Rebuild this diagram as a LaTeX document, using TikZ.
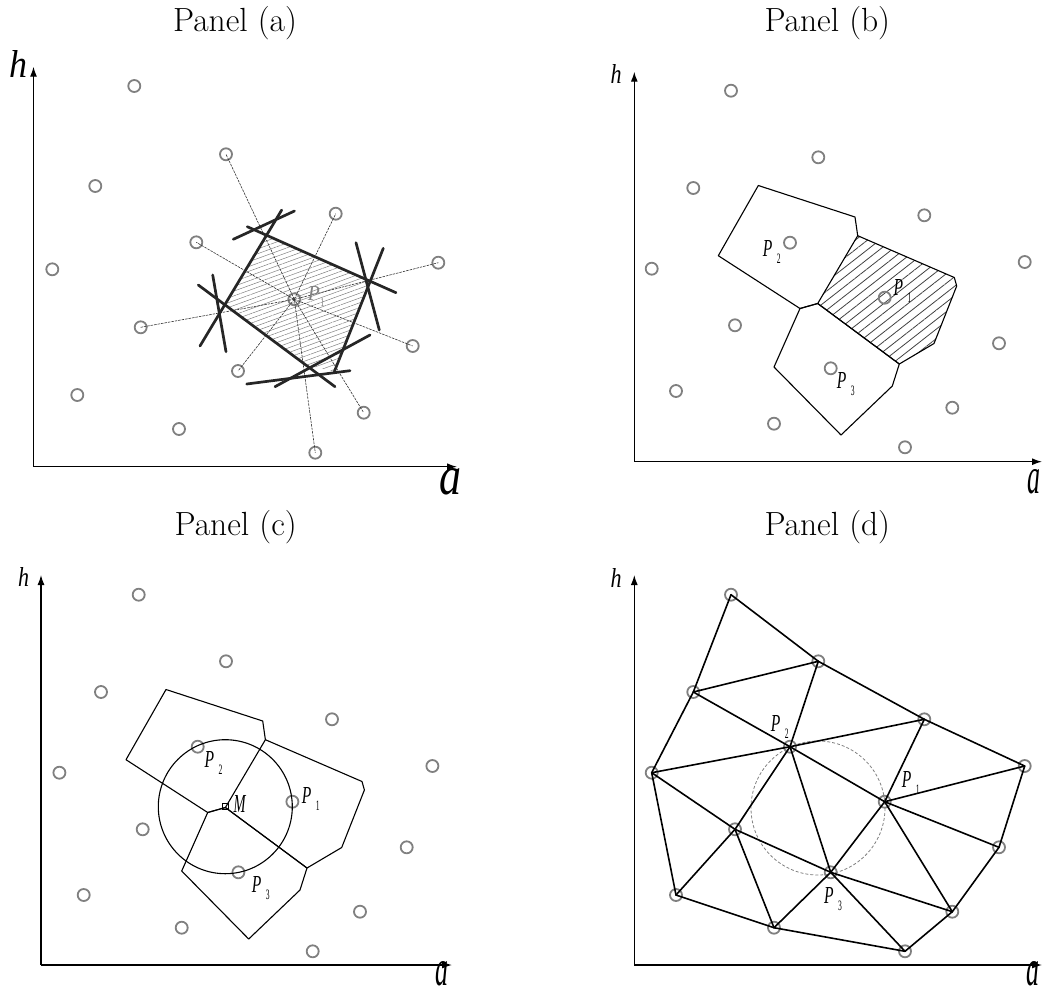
\documentclass[tikz,border=0pt]{standalone}
\usepackage{fontspec}
\newfontfamily\tms{Liberation Serif}
\usetikzlibrary{arrows.meta,patterns.meta}
\definecolor{ptgray}{RGB}{128,128,128}
\newcommand{\itg}[3]{\resizebox{#1}{#2}{\tms\itshape #3}}
\newcommand{\Plab}[1]{\itg{9.5pt}{16pt}{P}\hspace{4.5pt}\raisebox{-7pt}{\resizebox{3.8pt}{9.5pt}{\tms #1}}}
\newcommand{\hlab}{\itg{11pt}{19pt}{h}}
\newcommand{\alab}{\itg{13pt}{24pt}{a}}
\newcommand{\ptlist}{A/731/594.7, B/818.3/661.3, C/693.3/692, D/924.3/719.3, Q2/790/746.7, E/651.7/772.7, F/1024.7/766, Q1/884.7/801.7, G/735/829.3, H/999/847.3, Q3/830.7/872.3, I/676/895, J/952.3/911.7, K/774/927.7, L/905/951.3}
\newcommand{\vcoords}[1]{%
\coordinate (#1V1) at (758.3,689.5);
\coordinate (#1V2) at (855,721);
\coordinate (#1V3) at (857.7,739.7);
\coordinate (#1Mv) at (817.7,807.5);
\coordinate (#1V5) at (800,812.5);
\coordinate (#1V6) at (718.3,759.7);
\coordinate (#1W1) at (954.3,781.5);
\coordinate (#1W2) at (956.7,790);
\coordinate (#1W3) at (934,847.5);
\coordinate (#1W4) at (899.3,868);
\coordinate (#1U1) at (892.3,890);
\coordinate (#1U2) at (841,939);
\coordinate (#1U3) at (774,871);}
\newcommand{\vcells}[1]{%
\draw[cell] (#1V1) -- (#1V2) -- (#1V3) -- (#1Mv) -- (#1V5) -- (#1V6) -- cycle;
\draw[cell] (#1V3) -- (#1W1) -- (#1W2) -- (#1W3) -- (#1W4) -- (#1Mv);
\draw[cell] (#1V5) -- (#1Mv) -- (#1W4) -- (#1U1) -- (#1U2) -- (#1U3) -- cycle;}
\begin{document}
\begin{tikzpicture}[x=1pt,y=-1pt,
  pt/.style={circle, draw=ptgray, line width=1.8pt, minimum size=12pt, inner sep=0pt},
  axis/.style={line width=1.3pt, -{Latex[length=10pt,width=7pt]}},
  ray/.style={line width=0.6pt, dash pattern=on 2.5pt off 1pt, black!80},
  bis/.style={line width=2.7pt, black!85, line cap=round},
  cell/.style={line width=1.1pt, line join=round},
  tri/.style={line width=1.6pt, line cap=round},
  lab/.style={inner sep=0pt, anchor=base west},
  ttl/.style={inner sep=0pt, font=\fontsize{33.5}{40}\selectfont}]
\useasboundingbox (0,0) rectangle (1044,994);

% titles
\node[ttl] (ta) at (235,23) {Panel (a)};
\node[ttl] (tb) at (827.3,23) {Panel (b)};
\node[ttl] (tc) at (235.7,526.7) {Panel (c)};
\node[ttl] (td) at (827.3,526.7) {Panel (d)};

% ================= Panel (a)
\coordinate (aO) at (33.5,466.7);
\coordinate (aX) at (457,466.7);
\coordinate (aY) at (33.5,66.7);
\draw[axis] (aO) -- (aX);
\draw[axis] (aO) -- (aY);
\node[inner sep=0pt] (ah) at (18.5,64) {\itg{18pt}{27pt}{h}};
\node[inner sep=0pt] (aa) at (450.5,482) {\itg{22pt}{26pt}{a}};

\fill[pattern={Lines[angle=20,distance=4.5pt,line width=0.5pt]}, pattern color=ptgray]
  (265,235) -- (368,280) -- (334.5,371.5) -- (306,365) -- (224,304) -- cycle;

\foreach \n/\x/\y in {1/134.3/86, 2/95.3/186, 3/52.3/269.3, 4/77.3/395, 5/179/429, 6/226/154.3, 7/196.3/242.3, 8/335.7/213.7, 9/438.3/262.7, 10/140.7/327.3, 11/238/371, 12/412.7/346, 13/363.7/412.7, 14/315.3/452.7}
  \node[pt] (a\n) at (\x,\y) {};
\node[pt] (aP) at (294.3,299.3) {};
\foreach \n in {6,7,8,9,10,11,12,13,14}
  \draw[ray] (aP.center) -- (a\n.center);

\draw[bis] (247.3,226.7) -- (396,292.7);
\draw[bis] (233.3,239.3) -- (294.5,211);
\draw[bis] (281.7,210) -- (200,346);
\draw[bis] (198.3,285) -- (335,386.7);
\draw[bis] (212.7,275) -- (226,351.7);
\draw[bis] (356,242.7) -- (379.3,330);
\draw[bis] (383.3,248.3) -- (334.3,371.7);
\draw[bis] (246.7,384) -- (350,370.7);
\draw[bis] (275,386.7) -- (370,335);
\node[lab, text=ptgray] (aP1) at (307.7,300) {\itg{12pt}{14pt}{P}\hspace{0.5pt}\raisebox{-6pt}{\resizebox{4pt}{8pt}{\tms 1}}};

% ================= Panel (b)
\coordinate (bO) at (634.3,461.7);
\coordinate (bX) at (1042,461.7);
\coordinate (bY) at (634.3,71.7);
\draw[axis] (bO) -- (bX);
\draw[axis] (bO) -- (bY);
\node[inner sep=0pt] (bh) at (616,74) {\hlab};
\node[inner sep=0pt] (ba) at (1033.5,482) {\alab};
\begin{scope}[yshift=504pt]
  \vcoords{b}
  \fill[pattern={Lines[angle=38,distance=7.5pt,line width=0.8pt]}, pattern color=black!75]
    (bV3) -- (bW1) -- (bW2) -- (bW3) -- (bW4) -- (bMv) -- cycle;
  \vcells{b}
  \foreach \n/\x/\y in \ptlist \node[pt] (b\n) at (\x,\y) {};
\end{scope}
\node[lab] (bP2) at (762.7,256.7) {\Plab{2}};
\node[lab] (bP1) at (893.3,295) {\Plab{1}};
\node[lab] (bP3) at (836.7,388.3) {\Plab{3}};

% ================= Panel (c)
\coordinate (cO) at (41,965);
\coordinate (cX) at (452,965);
\coordinate (cY) at (41,575);
\draw[axis] (cO) -- (cX);
\draw[axis] (cO) -- (cY);
\node[inner sep=0pt] (ch) at (23.5,577) {\hlab};
\node[inner sep=0pt] (ca) at (441.7,974) {\alab};
\begin{scope}[xshift=-592.3pt]
  \vcoords{c}
  \vcells{c}
  \foreach \n/\x/\y in \ptlist \node[pt] (c\n) at (\x,\y) {};
  \node[draw, line width=0.8pt, minimum size=6pt, inner sep=0pt] (cM) at (817.6,806.7) {};
  \draw[line width=1.1pt] (cM.center) circle[radius=67];
\end{scope}
\node[lab] (cMl) at (233.3,812.7) {\itg{12pt}{17pt}{M}};
\node[lab] (cP2) at (204.3,767.7) {\Plab{2}};
\node[lab] (cP1) at (301.7,803.3) {\Plab{1}};
\node[lab] (cP3) at (251.7,892.7) {\Plab{3}};

% ================= Panel (d)
\coordinate (dO) at (634.3,965);
\coordinate (dX) at (1042,965);
\coordinate (dY) at (634.3,575);
\draw[axis] (dO) -- (dX);
\draw[axis] (dO) -- (dY);
\node[inner sep=0pt] (dh) at (616,578) {\hlab};
\node[inner sep=0pt] (da) at (1033,974) {\alab};
\draw[ptgray, line width=0.8pt, dash pattern=on 3pt off 2pt] (818,808) circle[radius=67];
\foreach \n/\x/\y in \ptlist \node[pt] (d\n) at (\x,\y) {};
\foreach \u/\v in {A/B, A/C, B/C, B/Q2, B/D, C/Q2, C/E, D/Q2, D/Q1, D/F, E/Q2, E/G, E/I, Q2/Q1, Q2/G, Q2/Q3, F/Q1, F/H, Q1/Q3, Q1/H, Q1/J, G/Q3, G/I, G/K, Q3/K, Q3/J, Q3/L, H/J, I/K, K/L, L/J}
  \draw[tri] (d\u.center) -- (d\v.center);
\node[lab] (dP2) at (770.7,731.7) {\Plab{2}};
\node[lab] (dP1) at (901.7,787.7) {\Plab{1}};
\node[lab] (dP3) at (824,903.3) {\Plab{3}};
\end{tikzpicture}
\end{document}
